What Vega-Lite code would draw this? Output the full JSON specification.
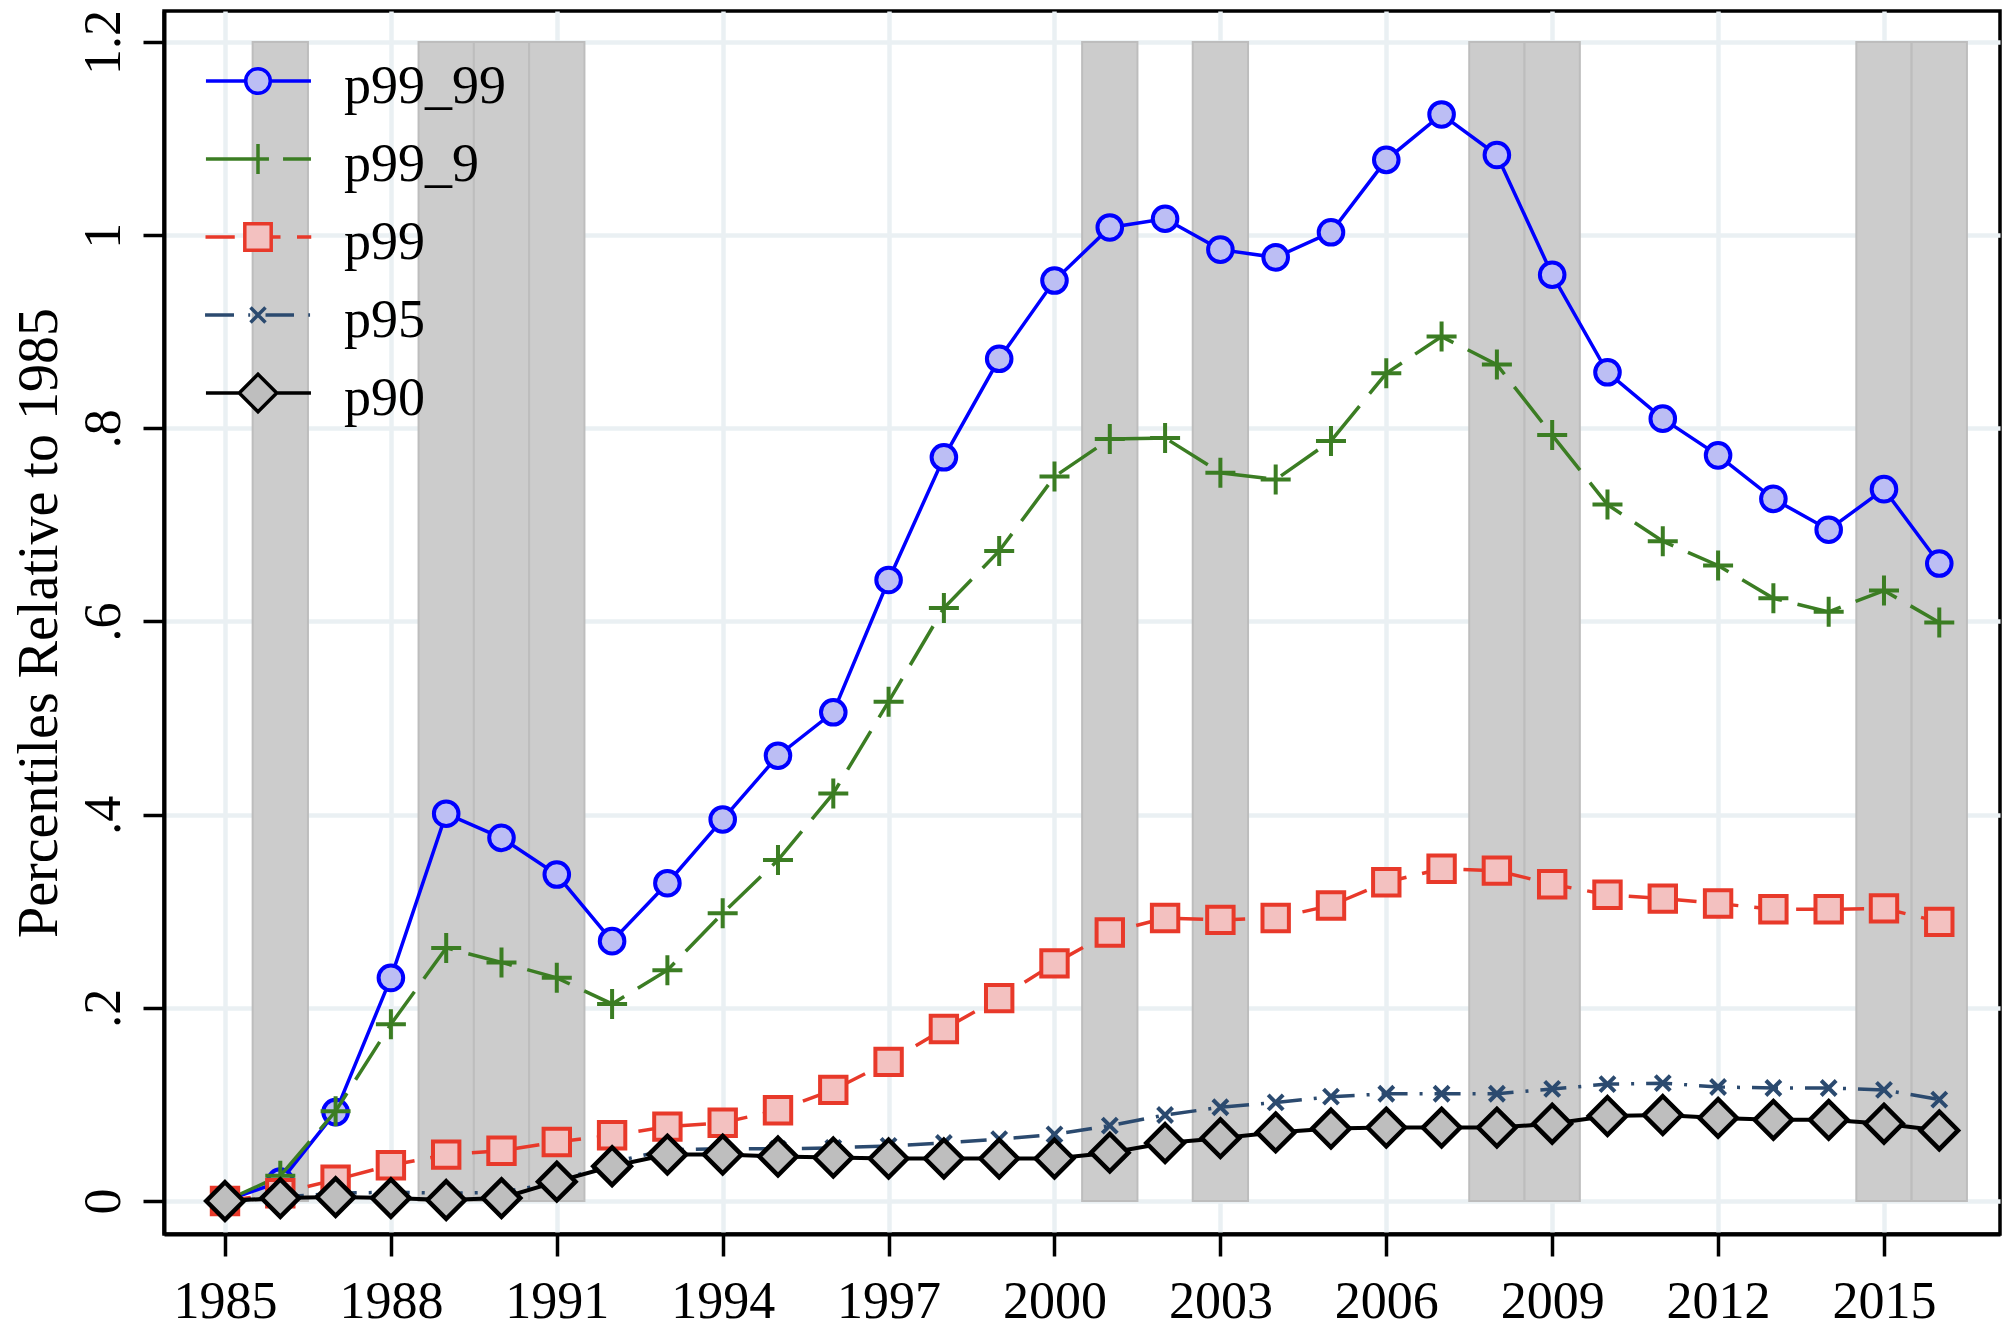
{
  "$schema": "https://vega.github.io/schema/vega-lite/v6.json",
  "width": 1836,
  "height": 1223,
  "autosize": {"type": "none"},
  "padding": {"left": 164, "top": 11, "right": 9, "bottom": 93},
  "background": "white",
  "config": {
    "view": {"stroke": "black", "strokeWidth": 3.5},
    "font": "Liberation Serif",
    "axis": {
      "grid": true, "gridColor": "#EAF0F3", "gridWidth": 4.5,
      "domainColor": "black", "domainWidth": 4,
      "tickColor": "black", "tickWidth": 3.5,
      "labelFont": "Liberation Serif", "labelColor": "black",
      "labelFlush": false, "labelOverlap": false,
      "titleFont": "Liberation Serif", "titleColor": "black", "titleFontWeight": "normal"
    },
    "axisX": {"tickSize": 22, "labelPadding": 20, "labelFontSize": 52},
    "axisY": {"tickSize": 21, "labelPadding": 24, "labelFontSize": 52, "labelAngle": -90,
      "labelAlign": "center", "labelBaseline": "alphabetic",
      "titleFontSize": 56, "titleBaseline": "alphabetic", "titleAngle": -90},
    "legend": {"labelFont": "Liberation Serif", "labelFontSize": 54, "labelColor": "black", "labelLimit": 400}
  },
  "datasets": {
    "bands": [
      {"start": 1985.5, "end": 1986.5},
      {"start": 1988.5, "end": 1989.5},
      {"start": 1989.5, "end": 1990.5},
      {"start": 1990.5, "end": 1991.5},
      {"start": 2000.5, "end": 2001.5},
      {"start": 2002.5, "end": 2003.5},
      {"start": 2007.5, "end": 2008.5},
      {"start": 2008.5, "end": 2009.5},
      {"start": 2014.5, "end": 2015.5},
      {"start": 2015.5, "end": 2016.5}
    ],
    "pct": [
      {"year": 1985, "p99_99": 0, "p99_9": 0, "p99": 0, "p95": 0, "p90": 0},
      {"year": 1986, "p99_99": 0.02, "p99_9": 0.026, "p99": 0.008, "p95": 0.004, "p90": 0.003},
      {"year": 1987, "p99_99": 0.092, "p99_9": 0.093, "p99": 0.022, "p95": 0.008, "p90": 0.004},
      {"year": 1988, "p99_99": 0.231, "p99_9": 0.183, "p99": 0.037, "p95": 0.009, "p90": 0.003},
      {"year": 1989, "p99_99": 0.401, "p99_9": 0.262, "p99": 0.048, "p95": 0.008, "p90": 0.001},
      {"year": 1990, "p99_99": 0.376, "p99_9": 0.247, "p99": 0.052, "p95": 0.009, "p90": 0.003},
      {"year": 1991, "p99_99": 0.338, "p99_9": 0.231, "p99": 0.061, "p95": 0.019, "p90": 0.020},
      {"year": 1992, "p99_99": 0.269, "p99_9": 0.204, "p99": 0.068, "p95": 0.040, "p90": 0.036},
      {"year": 1993, "p99_99": 0.329, "p99_9": 0.239, "p99": 0.077, "p95": 0.053, "p90": 0.048},
      {"year": 1994, "p99_99": 0.395, "p99_9": 0.298, "p99": 0.081, "p95": 0.054, "p90": 0.048},
      {"year": 1995, "p99_99": 0.461, "p99_9": 0.353, "p99": 0.094, "p95": 0.054, "p90": 0.046},
      {"year": 1996, "p99_99": 0.506, "p99_9": 0.422, "p99": 0.115, "p95": 0.055, "p90": 0.045},
      {"year": 1997, "p99_99": 0.643, "p99_9": 0.517, "p99": 0.144, "p95": 0.057, "p90": 0.044},
      {"year": 1998, "p99_99": 0.770, "p99_9": 0.614, "p99": 0.178, "p95": 0.060, "p90": 0.044},
      {"year": 1999, "p99_99": 0.872, "p99_9": 0.673, "p99": 0.210, "p95": 0.064, "p90": 0.044},
      {"year": 2000, "p99_99": 0.953, "p99_9": 0.750, "p99": 0.246, "p95": 0.069, "p90": 0.044},
      {"year": 2001, "p99_99": 1.008, "p99_9": 0.789, "p99": 0.278, "p95": 0.078, "p90": 0.050},
      {"year": 2002, "p99_99": 1.017, "p99_9": 0.790, "p99": 0.293, "p95": 0.089, "p90": 0.060},
      {"year": 2003, "p99_99": 0.985, "p99_9": 0.754, "p99": 0.291, "p95": 0.097, "p90": 0.065},
      {"year": 2004, "p99_99": 0.977, "p99_9": 0.747, "p99": 0.293, "p95": 0.102, "p90": 0.071},
      {"year": 2005, "p99_99": 1.003, "p99_9": 0.787, "p99": 0.306, "p95": 0.108, "p90": 0.075},
      {"year": 2006, "p99_99": 1.078, "p99_9": 0.857, "p99": 0.330, "p95": 0.111, "p90": 0.076},
      {"year": 2007, "p99_99": 1.125, "p99_9": 0.895, "p99": 0.344, "p95": 0.111, "p90": 0.076},
      {"year": 2008, "p99_99": 1.083, "p99_9": 0.866, "p99": 0.342, "p95": 0.111, "p90": 0.076},
      {"year": 2009, "p99_99": 0.959, "p99_9": 0.793, "p99": 0.328, "p95": 0.116, "p90": 0.080},
      {"year": 2010, "p99_99": 0.858, "p99_9": 0.721, "p99": 0.317, "p95": 0.121, "p90": 0.088},
      {"year": 2011, "p99_99": 0.810, "p99_9": 0.683, "p99": 0.313, "p95": 0.122, "p90": 0.089},
      {"year": 2012, "p99_99": 0.772, "p99_9": 0.658, "p99": 0.308, "p95": 0.118, "p90": 0.086},
      {"year": 2013, "p99_99": 0.727, "p99_9": 0.624, "p99": 0.302, "p95": 0.117, "p90": 0.084},
      {"year": 2014, "p99_99": 0.695, "p99_9": 0.610, "p99": 0.302, "p95": 0.117, "p90": 0.084},
      {"year": 2015, "p99_99": 0.737, "p99_9": 0.632, "p99": 0.303, "p95": 0.115, "p90": 0.080},
      {"year": 2016, "p99_99": 0.660, "p99_9": 0.599, "p99": 0.289, "p95": 0.105, "p90": 0.073}
    ]
  },
  "layer": [
    {
      "data": {"name": "bands"},
      "mark": {"type": "rect", "fill": "#CCCCCC", "stroke": "#BDBDBD", "strokeWidth": 2},
      "encoding": {
        "x": {"field": "start", "type": "quantitative",
          "scale": {"domain": [1983.897, 2017.098], "nice": false, "zero": false},
          "axis": {"values": [1985, 1988, 1991, 1994, 1997, 2000, 2003, 2006, 2009, 2012, 2015], "format": "d", "title": null}},
        "x2": {"field": "end"},
        "y": {"datum": 0, "type": "quantitative",
          "scale": {"domain": [-0.0342, 1.2321], "nice": false, "zero": false},
          "axis": {"values": [0, 0.2, 0.4, 0.6, 0.8, 1, 1.2],
            "labelExpr": "datum.value === 0 ? '0' : datum.value < 1 ? replace(format(datum.value, '.1f'), '0.', '.') : format(datum.value, '.2~f')",
            "title": "Percentiles Relative to 1985", "titleX": -108}},
        "y2": {"datum": 1.2}
      }
    },
    {
      "data": {"name": "pct"},
      "transform": [{"fold": ["p99_99", "p99_9", "p99", "p95", "p90"], "as": ["series", "value"]}, {"filter": "datum.series === 'p99_99'"}],
      "mark": {"type": "line", "strokeWidth": 3.5, "strokeCap": "butt"},
      "encoding": {
        "x": {"field": "year", "type": "quantitative", "scale": {"domain": [1983.897, 2017.098], "nice": false, "zero": false},
          "axis": {"values": [1985, 1988, 1991, 1994, 1997, 2000, 2003, 2006, 2009, 2012, 2015], "format": "d", "title": null}},
        "y": {"field": "value", "type": "quantitative", "scale": {"domain": [-0.0342, 1.2321], "nice": false, "zero": false},
          "axis": {"values": [0, 0.2, 0.4, 0.6, 0.8, 1, 1.2], "labelExpr": "datum.value === 0 ? '0' : datum.value < 1 ? replace(format(datum.value, '.1f'), '0.', '.') : format(datum.value, '.2~f')", "title": "Percentiles Relative to 1985", "titleX": -108}},
        "stroke": {"field": "series", "type": "nominal",
          "scale": {"domain": ["p99_99", "p99_9", "p99", "p95", "p90"], "range": ["#0000FF", "#3B7D23", "#E8392A", "#2B4A6F", "#000000"]},
          "legend": {"title": null, "orient": "none", "legendX": 0, "legendY": 43, "padding": 0, "rowPadding": 18, "symbolOffset": 67, "labelOffset": 59,
            "encode": {
              "symbols": {"update": {
                "shape": [
                  {"test": "datum.value === 'p99_99'", "value": "M-3.47,0L-0.82,0M0.82,0L3.53,0M-0.82,0C-0.82,-0.453,-0.453,-0.82,0,-0.82C0.453,-0.82,0.82,-0.453,0.82,0C0.82,0.453,0.453,0.82,0,0.82C-0.453,0.82,-0.82,0.453,-0.82,0Z"},
                  {"test": "datum.value === 'p99_9'", "value": "M-3.47,0L0.73,0M1.67,0L3.53,0M0,-1L0,1"},
                  {"test": "datum.value === 'p99'", "value": "M-3.5,0L-1.55,0M0.88,0L1.5,0M2.6,0L3.55,0M-0.88,-0.88L0.88,-0.88L0.88,0.88L-0.88,0.88Z"},
                  {"test": "datum.value === 'p95'", "value": "M-3.53,0L-1.6,0M-0.65,0L-0.52,0M0.5,0L2.4,0M3.35,0L3.47,0M-0.5,-0.5L0.5,0.5M-0.5,0.5L0.5,-0.5"},
                  {"value": "M-3.47,0L-1.25,0M1.25,0L3.53,0M0,-1.25L1.25,0L0,1.25L-1.25,0Z"}
                ],
                "size": {"value": 900},
                "strokeWidth": {"value": 3.5},
                "opacity": {"value": 1}
              }},
              "labels": {"update": {"dy": {"value": 6}}}
            }}}
      }
    },
    {
      "data": {"name": "pct"},
      "transform": [{"fold": ["p99_99", "p99_9", "p99", "p95", "p90"], "as": ["series", "value"]}, {"filter": "datum.series === 'p99_99'"}],
      "mark": {"type": "point", "shape": "M-0.82,0C-0.82,-0.453,-0.453,-0.82,0,-0.82C0.453,-0.82,0.82,-0.453,0.82,0C0.82,0.453,0.453,0.82,0,0.82C-0.453,0.82,-0.82,0.453,-0.82,0Z", "size": 900, "strokeWidth": 4, "opacity": 1},
      "encoding": {
        "x": {"field": "year", "type": "quantitative", "scale": {"domain": [1983.897, 2017.098], "nice": false, "zero": false},
          "axis": {"values": [1985, 1988, 1991, 1994, 1997, 2000, 2003, 2006, 2009, 2012, 2015], "format": "d", "title": null}},
        "y": {"field": "value", "type": "quantitative", "scale": {"domain": [-0.0342, 1.2321], "nice": false, "zero": false},
          "axis": {"values": [0, 0.2, 0.4, 0.6, 0.8, 1, 1.2], "labelExpr": "datum.value === 0 ? '0' : datum.value < 1 ? replace(format(datum.value, '.1f'), '0.', '.') : format(datum.value, '.2~f')", "title": "Percentiles Relative to 1985", "titleX": -108}},
        "stroke": {"field": "series", "type": "nominal",
          "scale": {"domain": ["p99_99", "p99_9", "p99", "p95", "p90"], "range": ["#0000FF", "#3B7D23", "#E8392A", "#2B4A6F", "#000000"]}},
        "fill": {"field": "series", "type": "nominal",
          "scale": {"domain": ["p99_99", "p99_9", "p99", "p95", "p90"], "range": ["#BCBEF4", "#3B7D23", "#F3C1C0", "#2B4A6F", "#BEBEBE"]}}
      }
    },
    {
      "data": {"name": "pct"},
      "transform": [{"fold": ["p99_99", "p99_9", "p99", "p95", "p90"], "as": ["series", "value"]}, {"filter": "datum.series === 'p99_9'"}],
      "mark": {"type": "line", "strokeWidth": 3.5, "strokeCap": "butt", "strokeDash": [45, 16]},
      "encoding": {
        "x": {"field": "year", "type": "quantitative", "scale": {"domain": [1983.897, 2017.098], "nice": false, "zero": false},
          "axis": {"values": [1985, 1988, 1991, 1994, 1997, 2000, 2003, 2006, 2009, 2012, 2015], "format": "d", "title": null}},
        "y": {"field": "value", "type": "quantitative", "scale": {"domain": [-0.0342, 1.2321], "nice": false, "zero": false},
          "axis": {"values": [0, 0.2, 0.4, 0.6, 0.8, 1, 1.2], "labelExpr": "datum.value === 0 ? '0' : datum.value < 1 ? replace(format(datum.value, '.1f'), '0.', '.') : format(datum.value, '.2~f')", "title": "Percentiles Relative to 1985", "titleX": -108}},
        "stroke": {"field": "series", "type": "nominal",
          "scale": {"domain": ["p99_99", "p99_9", "p99", "p95", "p90"], "range": ["#0000FF", "#3B7D23", "#E8392A", "#2B4A6F", "#000000"]}}
      }
    },
    {
      "data": {"name": "pct"},
      "transform": [{"fold": ["p99_99", "p99_9", "p99", "p95", "p90"], "as": ["series", "value"]}, {"filter": "datum.series === 'p99_9'"}],
      "mark": {"type": "point", "shape": "M-1,0L1,0M0,-1L0,1", "size": 900, "strokeWidth": 4, "opacity": 1},
      "encoding": {
        "x": {"field": "year", "type": "quantitative", "scale": {"domain": [1983.897, 2017.098], "nice": false, "zero": false},
          "axis": {"values": [1985, 1988, 1991, 1994, 1997, 2000, 2003, 2006, 2009, 2012, 2015], "format": "d", "title": null}},
        "y": {"field": "value", "type": "quantitative", "scale": {"domain": [-0.0342, 1.2321], "nice": false, "zero": false},
          "axis": {"values": [0, 0.2, 0.4, 0.6, 0.8, 1, 1.2], "labelExpr": "datum.value === 0 ? '0' : datum.value < 1 ? replace(format(datum.value, '.1f'), '0.', '.') : format(datum.value, '.2~f')", "title": "Percentiles Relative to 1985", "titleX": -108}},
        "stroke": {"field": "series", "type": "nominal",
          "scale": {"domain": ["p99_99", "p99_9", "p99", "p95", "p90"], "range": ["#0000FF", "#3B7D23", "#E8392A", "#2B4A6F", "#000000"]}},
        "fill": {"field": "series", "type": "nominal",
          "scale": {"domain": ["p99_99", "p99_9", "p99", "p95", "p90"], "range": ["#BCBEF4", "#3B7D23", "#F3C1C0", "#2B4A6F", "#BEBEBE"]}}
      }
    },
    {
      "data": {"name": "pct"},
      "transform": [{"fold": ["p99_99", "p99_9", "p99", "p95", "p90"], "as": ["series", "value"]}, {"filter": "datum.series === 'p99'"}],
      "mark": {"type": "line", "strokeWidth": 3.5, "strokeCap": "butt", "strokeDash": [26, 16]},
      "encoding": {
        "x": {"field": "year", "type": "quantitative", "scale": {"domain": [1983.897, 2017.098], "nice": false, "zero": false},
          "axis": {"values": [1985, 1988, 1991, 1994, 1997, 2000, 2003, 2006, 2009, 2012, 2015], "format": "d", "title": null}},
        "y": {"field": "value", "type": "quantitative", "scale": {"domain": [-0.0342, 1.2321], "nice": false, "zero": false},
          "axis": {"values": [0, 0.2, 0.4, 0.6, 0.8, 1, 1.2], "labelExpr": "datum.value === 0 ? '0' : datum.value < 1 ? replace(format(datum.value, '.1f'), '0.', '.') : format(datum.value, '.2~f')", "title": "Percentiles Relative to 1985", "titleX": -108}},
        "stroke": {"field": "series", "type": "nominal",
          "scale": {"domain": ["p99_99", "p99_9", "p99", "p95", "p90"], "range": ["#0000FF", "#3B7D23", "#E8392A", "#2B4A6F", "#000000"]}}
      }
    },
    {
      "data": {"name": "pct"},
      "transform": [{"fold": ["p99_99", "p99_9", "p99", "p95", "p90"], "as": ["series", "value"]}, {"filter": "datum.series === 'p99'"}],
      "mark": {"type": "point", "shape": "M-0.88,-0.88L0.88,-0.88L0.88,0.88L-0.88,0.88Z", "size": 900, "strokeWidth": 4, "opacity": 1},
      "encoding": {
        "x": {"field": "year", "type": "quantitative", "scale": {"domain": [1983.897, 2017.098], "nice": false, "zero": false},
          "axis": {"values": [1985, 1988, 1991, 1994, 1997, 2000, 2003, 2006, 2009, 2012, 2015], "format": "d", "title": null}},
        "y": {"field": "value", "type": "quantitative", "scale": {"domain": [-0.0342, 1.2321], "nice": false, "zero": false},
          "axis": {"values": [0, 0.2, 0.4, 0.6, 0.8, 1, 1.2], "labelExpr": "datum.value === 0 ? '0' : datum.value < 1 ? replace(format(datum.value, '.1f'), '0.', '.') : format(datum.value, '.2~f')", "title": "Percentiles Relative to 1985", "titleX": -108}},
        "stroke": {"field": "series", "type": "nominal",
          "scale": {"domain": ["p99_99", "p99_9", "p99", "p95", "p90"], "range": ["#0000FF", "#3B7D23", "#E8392A", "#2B4A6F", "#000000"]}},
        "fill": {"field": "series", "type": "nominal",
          "scale": {"domain": ["p99_99", "p99_9", "p99", "p95", "p90"], "range": ["#BCBEF4", "#3B7D23", "#F3C1C0", "#2B4A6F", "#BEBEBE"]}}
      }
    },
    {
      "data": {"name": "pct"},
      "transform": [{"fold": ["p99_99", "p99_9", "p99", "p95", "p90"], "as": ["series", "value"]}, {"filter": "datum.series === 'p95'"}],
      "mark": {"type": "line", "strokeWidth": 3.5, "strokeCap": "butt", "strokeDash": [26, 12, 3, 12]},
      "encoding": {
        "x": {"field": "year", "type": "quantitative", "scale": {"domain": [1983.897, 2017.098], "nice": false, "zero": false},
          "axis": {"values": [1985, 1988, 1991, 1994, 1997, 2000, 2003, 2006, 2009, 2012, 2015], "format": "d", "title": null}},
        "y": {"field": "value", "type": "quantitative", "scale": {"domain": [-0.0342, 1.2321], "nice": false, "zero": false},
          "axis": {"values": [0, 0.2, 0.4, 0.6, 0.8, 1, 1.2], "labelExpr": "datum.value === 0 ? '0' : datum.value < 1 ? replace(format(datum.value, '.1f'), '0.', '.') : format(datum.value, '.2~f')", "title": "Percentiles Relative to 1985", "titleX": -108}},
        "stroke": {"field": "series", "type": "nominal",
          "scale": {"domain": ["p99_99", "p99_9", "p99", "p95", "p90"], "range": ["#0000FF", "#3B7D23", "#E8392A", "#2B4A6F", "#000000"]}}
      }
    },
    {
      "data": {"name": "pct"},
      "transform": [{"fold": ["p99_99", "p99_9", "p99", "p95", "p90"], "as": ["series", "value"]}, {"filter": "datum.series === 'p95'"}],
      "mark": {"type": "point", "shape": "M-0.5,-0.5L0.5,0.5M-0.5,0.5L0.5,-0.5", "size": 900, "strokeWidth": 4, "opacity": 1},
      "encoding": {
        "x": {"field": "year", "type": "quantitative", "scale": {"domain": [1983.897, 2017.098], "nice": false, "zero": false},
          "axis": {"values": [1985, 1988, 1991, 1994, 1997, 2000, 2003, 2006, 2009, 2012, 2015], "format": "d", "title": null}},
        "y": {"field": "value", "type": "quantitative", "scale": {"domain": [-0.0342, 1.2321], "nice": false, "zero": false},
          "axis": {"values": [0, 0.2, 0.4, 0.6, 0.8, 1, 1.2], "labelExpr": "datum.value === 0 ? '0' : datum.value < 1 ? replace(format(datum.value, '.1f'), '0.', '.') : format(datum.value, '.2~f')", "title": "Percentiles Relative to 1985", "titleX": -108}},
        "stroke": {"field": "series", "type": "nominal",
          "scale": {"domain": ["p99_99", "p99_9", "p99", "p95", "p90"], "range": ["#0000FF", "#3B7D23", "#E8392A", "#2B4A6F", "#000000"]}},
        "fill": {"field": "series", "type": "nominal",
          "scale": {"domain": ["p99_99", "p99_9", "p99", "p95", "p90"], "range": ["#BCBEF4", "#3B7D23", "#F3C1C0", "#2B4A6F", "#BEBEBE"]}}
      }
    },
    {
      "data": {"name": "pct"},
      "transform": [{"fold": ["p99_99", "p99_9", "p99", "p95", "p90"], "as": ["series", "value"]}, {"filter": "datum.series === 'p90'"}],
      "mark": {"type": "line", "strokeWidth": 4, "strokeCap": "butt"},
      "encoding": {
        "x": {"field": "year", "type": "quantitative", "scale": {"domain": [1983.897, 2017.098], "nice": false, "zero": false},
          "axis": {"values": [1985, 1988, 1991, 1994, 1997, 2000, 2003, 2006, 2009, 2012, 2015], "format": "d", "title": null}},
        "y": {"field": "value", "type": "quantitative", "scale": {"domain": [-0.0342, 1.2321], "nice": false, "zero": false},
          "axis": {"values": [0, 0.2, 0.4, 0.6, 0.8, 1, 1.2], "labelExpr": "datum.value === 0 ? '0' : datum.value < 1 ? replace(format(datum.value, '.1f'), '0.', '.') : format(datum.value, '.2~f')", "title": "Percentiles Relative to 1985", "titleX": -108}},
        "stroke": {"field": "series", "type": "nominal",
          "scale": {"domain": ["p99_99", "p99_9", "p99", "p95", "p90"], "range": ["#0000FF", "#3B7D23", "#E8392A", "#2B4A6F", "#000000"]}}
      }
    },
    {
      "data": {"name": "pct"},
      "transform": [{"fold": ["p99_99", "p99_9", "p99", "p95", "p90"], "as": ["series", "value"]}, {"filter": "datum.series === 'p90'"}],
      "mark": {"type": "point", "shape": "M0,-1.25L1.25,0L0,1.25L-1.25,0Z", "size": 900, "strokeWidth": 4.5, "opacity": 1},
      "encoding": {
        "x": {"field": "year", "type": "quantitative", "scale": {"domain": [1983.897, 2017.098], "nice": false, "zero": false},
          "axis": {"values": [1985, 1988, 1991, 1994, 1997, 2000, 2003, 2006, 2009, 2012, 2015], "format": "d", "title": null}},
        "y": {"field": "value", "type": "quantitative", "scale": {"domain": [-0.0342, 1.2321], "nice": false, "zero": false},
          "axis": {"values": [0, 0.2, 0.4, 0.6, 0.8, 1, 1.2], "labelExpr": "datum.value === 0 ? '0' : datum.value < 1 ? replace(format(datum.value, '.1f'), '0.', '.') : format(datum.value, '.2~f')", "title": "Percentiles Relative to 1985", "titleX": -108}},
        "stroke": {"field": "series", "type": "nominal",
          "scale": {"domain": ["p99_99", "p99_9", "p99", "p95", "p90"], "range": ["#0000FF", "#3B7D23", "#E8392A", "#2B4A6F", "#000000"]}},
        "fill": {"field": "series", "type": "nominal",
          "scale": {"domain": ["p99_99", "p99_9", "p99", "p95", "p90"], "range": ["#BCBEF4", "#3B7D23", "#F3C1C0", "#2B4A6F", "#BEBEBE"]}}
      }
    }
  ]
}
